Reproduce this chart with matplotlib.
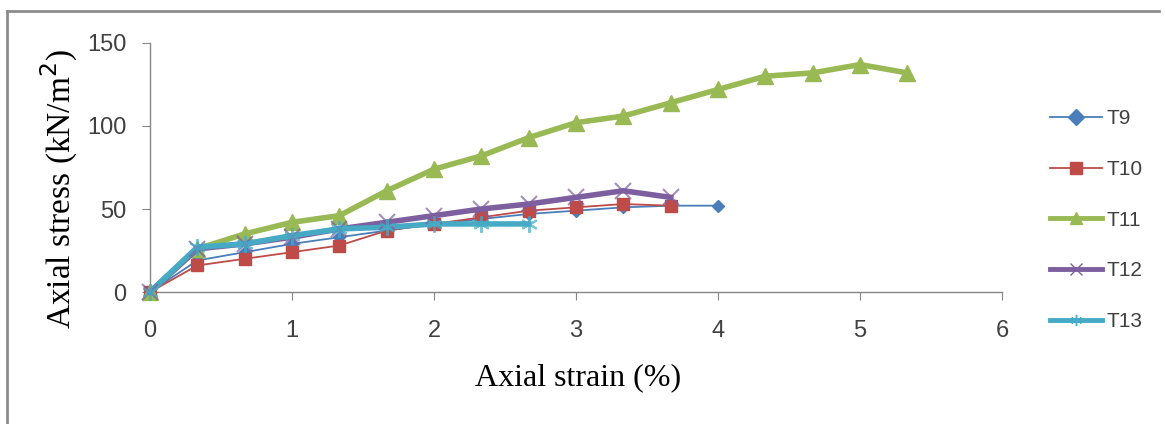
import matplotlib
matplotlib.use("Agg")
import matplotlib.pyplot as plt
from matplotlib.lines import Line2D

strain = [0, 0.333, 0.667, 1.0, 1.333, 1.667, 2.0, 2.333, 2.667, 3.0, 3.333,
          3.667, 4.0, 4.333, 4.667, 5.0, 5.333]

t9 = [0, 19, 24, 29, 33, 37, 41, 44, 47, 49, 51, 52, 52]
t10 = [0, 16, 20, 24, 28, 37, 41, 45, 49, 51, 53, 52]
t11 = [0, 26, 35, 42, 46, 61, 74, 82, 93, 102, 106, 114, 122, 130, 132, 137, 132]
t12 = [0, 26, 29, 33, 38, 42, 46, 50, 53, 57, 61, 57]
t13 = [0, 27, 29, 34, 38, 39, 41, 41, 41]

names = ["T9", "T10", "T11", "T12", "T13"]
series = [t9, t10, t11, t12, t13]
colors = ["#4a7ebb", "#be4b48", "#98b954", "#7d5fa0", "#46aac5"]
markers = ["D", "s", "^", "x", (6, 2, 0)]
widths = [1.3, 1.3, 4.0, 4.0, 4.0]
msizes = [6, 8, 11, 11, 12]

fig = plt.figure(figsize=(11.65, 4.24), dpi=100)
ax = fig.add_axes([0.1288, 0.3113, 0.7313, 0.5873])

for name, ys, c, m, lw, ms in zip(names, series, colors, markers, widths, msizes):
    xs = strain[:len(ys)]
    if m in ("x", (6, 2, 0)):
        ax.plot(xs, ys, '-', color=c, linewidth=lw, clip_on=False, zorder=3)
        ax.plot(xs, ys, ' ', marker=m, color=c, markersize=ms, markeredgewidth=1.5,
                alpha=0.7, clip_on=False, zorder=4)
    else:
        ax.plot(xs, ys, '-', color=c, linewidth=lw, marker=m, markersize=ms,
                markeredgecolor=c, clip_on=False, zorder=3)

ax.set_xlim(0, 6)
ax.set_ylim(0, 150)
ax.set_xticks([0, 1, 2, 3, 4, 5, 6])
ax.set_yticks([0, 50, 100, 150])
for s in ["top", "right"]:
    ax.spines[s].set_visible(False)
for s in ["left", "bottom"]:
    ax.spines[s].set_color("#868686")
    ax.spines[s].set_linewidth(1.0)
ax.tick_params(direction="out", length=6, color="#868686", labelsize=17,
               labelcolor="#404040")
ax.tick_params(axis="x", pad=14)
ax.tick_params(axis="y", pad=11)
for lab in ax.get_xticklabels() + ax.get_yticklabels():
    lab.set_family("Liberation Sans")

ax.set_xlabel("Axial strain (%)", family="Liberation Serif", fontsize=23)
ax.set_ylabel("Axial stress (kN/m$^2$)", family="Liberation Serif", fontsize=24)
ax.xaxis.set_label_coords(0.502, -0.285)
ax.yaxis.set_label_coords(-0.082, 0.414)

handles = []
for name, c, m, lw in zip(names, colors, markers, widths):
    handles.append(Line2D([0], [0], color=c, linewidth=min(lw, 3.5), marker=m,
                          markersize=8, markeredgecolor=c, label=name))
leg = fig.legend(handles=handles, loc="upper left", bbox_to_anchor=(0.901, 0.742),
                 frameon=False, fontsize=15, handlelength=2.5, labelspacing=1.52,
                 handletextpad=0.25, borderaxespad=0, borderpad=0)
for t in leg.get_texts():
    t.set_family("Liberation Sans")
    t.set_color("#404040")

# outer frame of the original figure (top and left edges visible)
fig.add_artist(Line2D([0.006, 0.006], [0.0, 0.975], transform=fig.transFigure,
                      color="#8c8c8c", linewidth=2))
fig.add_artist(Line2D([0.006, 0.995], [0.975, 0.975], transform=fig.transFigure,
                      color="#8c8c8c", linewidth=2))

fig.savefig("out.png", dpi=100)
